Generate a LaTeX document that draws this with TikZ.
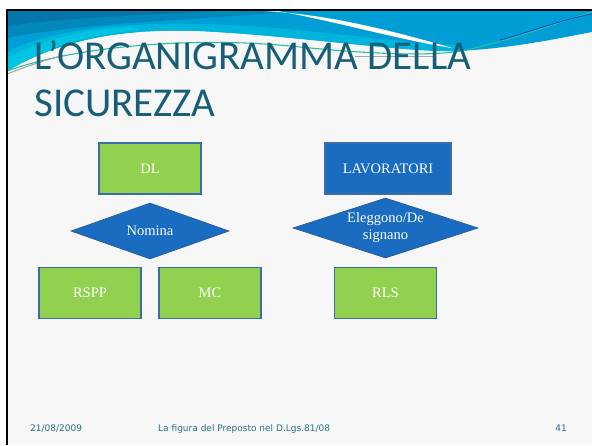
\documentclass[tikz,border=0pt]{standalone}
\usepackage{fontspec}
\setmainfont{Liberation Serif}
\newfontfamily\titlefont{Carlito}
\newfontfamily\footfont{DejaVu Sans}
\usetikzlibrary{shapes.geometric}
\definecolor{lgreen}{HTML}{92D050}
\definecolor{mblue}{HTML}{1A6CC1}
\definecolor{boxline}{HTML}{3A6EA8}
\definecolor{dline}{HTML}{2A5F9E}
\definecolor{titlecol}{HTML}{175E78}
\definecolor{footcol}{HTML}{2D6E85}
\definecolor{hdark}{HTML}{0676A8}
\definecolor{hmid}{HTML}{0388BC}
\definecolor{hlight}{HTML}{00C4E2}
\definecolor{hright}{HTML}{009ED4}
\definecolor{slidebg}{HTML}{F7F7F7}
\definecolor{wavegreen}{HTML}{2ABFA0}
\tikzset{
  boxtext/.style={text=white, font=\fontsize{14.5}{17}\selectfont},
  greenbox/.style={rectangle, draw=boxline, line width=1.3pt, fill=lgreen, minimum width=102pt, minimum height=51pt, inner sep=0pt, boxtext},
  bluebox/.style={greenbox, fill=mblue},
  decision/.style={diamond, shape aspect=3, draw=dline, line width=0.8pt, fill=mblue, inner sep=0pt, align=center, boxtext},
  titletext/.style={anchor=base west, inner sep=0pt, text=titlecol, font=\titlefont\fontsize{41}{48}\selectfont},
  foottext/.style={inner sep=0pt, text=footcol, font=\footfont\fontsize{9}{11}\selectfont}
}
\begin{document}
\begin{tikzpicture}[x=1pt,y=-1pt]
\useasboundingbox (0,0) rectangle (592,445);
\fill[white] (0,0) rectangle (592,445);
\fill[slidebg] (7,10) rectangle (592,445);
% header wave: layered solid fills
\fill[hright] (7,10) -- (592,10) -- (592,32) .. controls (560,38) and (510,49) .. (455,51)
   .. controls (400,52) and (300,36) .. (200,31) .. controls (120,28) and (60,40) .. (7,71) -- cycle;
\fill[hlight!60!hright] (7,71) .. controls (60,40) and (120,28) .. (200,31)
   .. controls (300,36) and (400,52) .. (455,51) -- (455,45) .. controls (380,42) and (300,26) .. (200,24)
   .. controls (120,22) and (50,30) .. (7,52) -- cycle;
\fill[hlight] (7,71) .. controls (50,45) and (90,34) .. (140,30) -- (130,27) .. controls (80,30) and (40,40) .. (7,58) -- cycle;
\fill[hmid] (7,10) -- (300,10) .. controls (220,20) and (100,20) .. (7,38) -- cycle;
\fill[hdark] (7,10) -- (230,10) .. controls (160,15) and (80,16) .. (7,26) -- cycle;
% white streak
\fill[white] (250,10.5) .. controls (320,12) and (390,30) .. (452,48)
   .. controls (400,40) and (330,20) .. (275,10.5) -- cycle;
% wave lines
\draw[wavegreen, line width=1.1pt] (7,71) .. controls (80,45) and (200,36) .. (300,47)
   .. controls (380,55) and (445,57) .. (475,48) .. controls (520,37) and (560,22) .. (592,12);
\draw[gray!70, line width=1pt] (7,74) .. controls (25,67) and (45,60) .. (65,55);
\draw[gray!70, line width=1pt] (355,56) -- (435,56);
\draw[hdark!60!blue, line width=0.8pt] (500,40) .. controls (530,32) and (560,20) .. (592,14);
% slide frame
\draw[black, line width=2pt] (7,445) -- (7,10) -- (592,10);
% title
\node[titletext] (t1) at (34,69) {L’ORGANIGRAMMA DELLA};
\node[titletext] (t2) at (34,116) {SICUREZZA};
% diagram
\node[greenbox] (dl) at (150,168.5) {DL};
\node[decision, minimum width=158pt, minimum height=56pt] (nomina) at (150,231) {Nomina};
\node[greenbox] (rspp) at (90,293) {RSPP};
\node[greenbox] (mc) at (210,293) {MC};
\node[bluebox, minimum width=126pt] (lav) at (388,168.5) {LAVORATORI};
\node[decision, minimum width=185pt, minimum height=60pt] (eleg) at (385.5,228) {Eleggono/De\\signano};
\node[greenbox] (rls) at (385.5,293) {RLS};
% footer
\node[foottext, anchor=base west] (date) at (30,431) {21/08/2009};
\node[foottext, anchor=base west] (foot) at (158,431) {La figura del Preposto nel D.Lgs.81/08};
\node[foottext, anchor=base east] (page) at (567,431) {41};
\end{tikzpicture}
\end{document}
